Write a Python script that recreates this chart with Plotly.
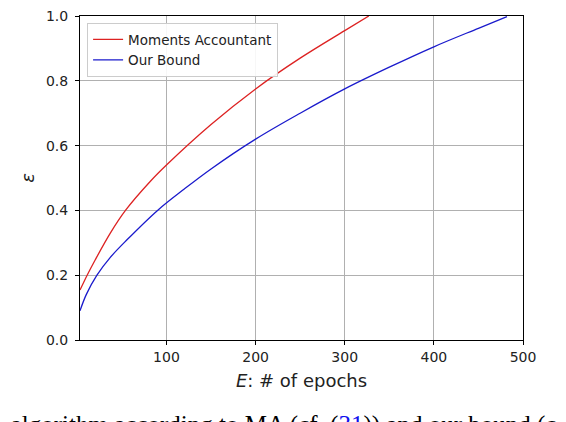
import plotly.graph_objects as go

# readings: epsilon vs number of epochs
E_MA = [3, 11, 20, 37, 54, 82, 100, 150, 200, 250, 300, 327]
EPS_MA = [0.154, 0.20, 0.247, 0.33, 0.40, 0.49, 0.54, 0.665, 0.775, 0.87, 0.955, 1.0]

E_OURS = [3, 10, 22, 37, 56, 90, 120, 150, 200, 250, 300, 350, 400, 450, 482]
EPS_OURS = [0.09, 0.14, 0.2, 0.255, 0.31, 0.40, 0.466, 0.528, 0.62, 0.70,
            0.775, 0.842, 0.905, 0.962, 0.998]

X_TICKS = [100, 200, 300, 400, 500]
Y_TICKS = [0.0, 0.2, 0.4, 0.6, 0.8, 1.0]

FONT = "DejaVu Sans"
GRID = "#b0b0b0"

fig = go.Figure()
fig.add_trace(go.Scatter(x=E_MA, y=EPS_MA, mode="lines", name="Moments Accountant",
                         line=dict(color="#dd2222", width=1.3, shape="spline")))
fig.add_trace(go.Scatter(x=E_OURS, y=EPS_OURS, mode="lines", name="Our Bound",
                         line=dict(color="#1a1acc", width=1.3, shape="spline")))

# page has an 8px body margin, so margins are shifted to keep the plot where the reference has it
fig.update_layout(
    width=566, height=422,
    margin=dict(l=72, r=51, t=8, b=90),
    paper_bgcolor="white", plot_bgcolor="white",
    font=dict(family=FONT, size=14, color="#222222"),
    legend=dict(x=0.016, y=0.978, xanchor="left", yanchor="top",
                bgcolor="rgba(255,255,255,0.9)", bordercolor="#cccccc", borderwidth=1,
                font=dict(family=FONT, size=13.5, color="#222222")),
)
fig.update_xaxes(
    range=[3, 500], tickvals=X_TICKS, ticks="outside", ticklen=4, tickcolor="black",
    showgrid=True, gridcolor=GRID, gridwidth=1, zeroline=False,
    showline=True, linecolor="black", linewidth=1, mirror=True,
    tickfont=dict(size=14),
    title=dict(text="<i>E</i>: # of epochs", font=dict(size=18), standoff=10),
    automargin=False,
)
fig.update_yaxes(
    range=[0, 1], tickvals=Y_TICKS, tickformat=".1f", ticks="outside", ticklen=4,
    tickcolor="black", showgrid=True, gridcolor=GRID, gridwidth=1, zeroline=False,
    showline=True, linecolor="black", linewidth=1, mirror=True,
    tickfont=dict(size=14), ticklabeloverflow="allow", ticklabelstandoff=4,
    title=dict(text="<i>ε</i>", font=dict(size=18), standoff=6),
    automargin=False,
)

# caption of the page, cut off at the bottom of the crop
fig.add_annotation(
    text="n algorithm according to MA (cf. (<span style='color:#1010ee'>31</span>)) "
         "and our bound (c",
    xref="paper", yref="paper", x=-0.203, y=-0.212, xanchor="left", yanchor="top",
    showarrow=False, font=dict(family="Liberation Serif", size=25, color="black"),
)

fig.write_html("out.html")
